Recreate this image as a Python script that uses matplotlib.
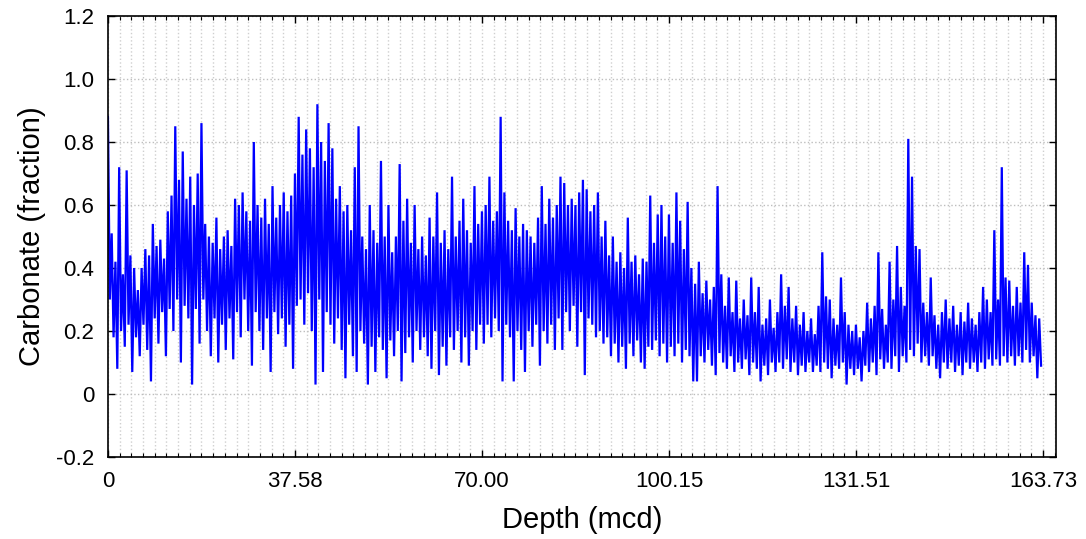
import numpy as np
import matplotlib
matplotlib.use('Agg')
import matplotlib.pyplot as plt
from matplotlib.ticker import MultipleLocator, FixedLocator, FixedFormatter

plt.rcParams['font.family'] = ['Liberation Sans', 'DejaVu Sans']

# carbonate fraction, read off the picture as alternating peak / trough values
# one list per interval between depth labels
seg1 = [0.88, 0.30, 0.51, 0.18, 0.42, 0.08, 0.72, 0.20, 0.38, 0.15,
        0.71, 0.22, 0.44, 0.07, 0.40, 0.18, 0.33, 0.12, 0.40, 0.22,
        0.46, 0.14, 0.44, 0.04, 0.54, 0.24, 0.47, 0.16, 0.49, 0.26,
        0.43, 0.12, 0.58, 0.27, 0.63, 0.20, 0.85, 0.30, 0.68, 0.10,
        0.77, 0.28, 0.62, 0.24, 0.69, 0.03, 0.60, 0.27, 0.70, 0.16,
        0.86, 0.30, 0.54, 0.20, 0.50, 0.12, 0.48, 0.24, 0.56, 0.10,
        0.46, 0.22, 0.50, 0.14, 0.52, 0.24, 0.47, 0.11, 0.62, 0.26,
        0.60, 0.18, 0.64, 0.30, 0.58, 0.20, 0.55, 0.09, 0.80, 0.26,
        0.60, 0.20, 0.56, 0.14, 0.62, 0.24, 0.54, 0.07, 0.66, 0.26,
        0.56, 0.19, 0.60, 0.24, 0.64, 0.15, 0.58, 0.22, 0.63, 0.08]
seg2 = [0.70, 0.28, 0.88, 0.30, 0.76, 0.22, 0.84, 0.32, 0.78, 0.20,
        0.72, 0.03, 0.92, 0.30, 0.80, 0.07, 0.74, 0.26, 0.86, 0.22,
        0.78, 0.16, 0.62, 0.24, 0.66, 0.14, 0.58, 0.05, 0.60, 0.22,
        0.52, 0.12, 0.72, 0.07, 0.85, 0.20, 0.50, 0.16, 0.46, 0.03,
        0.60, 0.15, 0.52, 0.07, 0.48, 0.18, 0.74, 0.14, 0.50, 0.05,
        0.60, 0.17, 0.45, 0.12, 0.50, 0.20, 0.73, 0.04, 0.55, 0.13,
        0.62, 0.18, 0.48, 0.10, 0.60, 0.20, 0.46, 0.14, 0.50, 0.18,
        0.44, 0.12, 0.56, 0.08, 0.50, 0.20, 0.64, 0.06, 0.48, 0.15,
        0.52, 0.09, 0.46, 0.18, 0.69, 0.14, 0.50, 0.20, 0.55, 0.10,
        0.62, 0.18, 0.52, 0.09, 0.48, 0.20, 0.66, 0.14, 0.54, 0.22]
seg3 = [0.58, 0.16, 0.60, 0.22, 0.69, 0.18, 0.55, 0.24, 0.58, 0.20,
        0.88, 0.04, 0.64, 0.22, 0.55, 0.18, 0.52, 0.04, 0.59, 0.20,
        0.50, 0.14, 0.54, 0.07, 0.52, 0.20, 0.50, 0.15, 0.48, 0.22,
        0.56, 0.09, 0.66, 0.20, 0.54, 0.16, 0.62, 0.22, 0.56, 0.14,
        0.60, 0.24, 0.69, 0.14, 0.67, 0.26, 0.60, 0.20, 0.62, 0.28,
        0.60, 0.15, 0.64, 0.26, 0.68, 0.06, 0.65, 0.24, 0.58, 0.22,
        0.60, 0.18, 0.64, 0.20, 0.50, 0.16, 0.55, 0.18, 0.44, 0.12,
        0.50, 0.16, 0.42, 0.10, 0.45, 0.15, 0.40, 0.08, 0.56, 0.16,
        0.42, 0.12, 0.44, 0.17, 0.38, 0.10, 0.43, 0.08, 0.42, 0.15,
        0.63, 0.14, 0.48, 0.17, 0.57, 0.12, 0.60, 0.16, 0.50, 0.10]
seg4 = [0.57, 0.15, 0.48, 0.12, 0.64, 0.16, 0.55, 0.10, 0.46, 0.14,
        0.61, 0.12, 0.40, 0.04, 0.35, 0.04, 0.42, 0.12, 0.32, 0.10,
        0.36, 0.14, 0.30, 0.09, 0.34, 0.06, 0.66, 0.13, 0.38, 0.10,
        0.28, 0.08, 0.37, 0.12, 0.26, 0.07, 0.36, 0.10, 0.24, 0.08,
        0.30, 0.11, 0.25, 0.06, 0.37, 0.10, 0.26, 0.08, 0.34, 0.04,
        0.22, 0.09, 0.24, 0.06, 0.30, 0.10, 0.21, 0.07, 0.26, 0.10,
        0.38, 0.08, 0.28, 0.11, 0.34, 0.07, 0.24, 0.10, 0.28, 0.06,
        0.22, 0.09, 0.26, 0.07, 0.20, 0.10, 0.24, 0.07, 0.19, 0.09,
        0.28, 0.07, 0.45, 0.10, 0.31, 0.08, 0.30, 0.05, 0.24, 0.09,
        0.22, 0.08, 0.37, 0.10, 0.26, 0.03, 0.22, 0.08, 0.20, 0.06]
seg5 = [0.22, 0.08, 0.18, 0.04, 0.20, 0.09, 0.29, 0.07, 0.24, 0.10,
        0.28, 0.06, 0.45, 0.11, 0.27, 0.08, 0.22, 0.10, 0.42, 0.08,
        0.30, 0.12, 0.47, 0.07, 0.34, 0.12, 0.28, 0.10, 0.81, 0.14,
        0.69, 0.12, 0.47, 0.16, 0.46, 0.10, 0.29, 0.12, 0.26, 0.09,
        0.37, 0.12, 0.25, 0.08, 0.22, 0.05, 0.26, 0.10, 0.30, 0.08,
        0.24, 0.10, 0.28, 0.07, 0.22, 0.09, 0.26, 0.06, 0.23, 0.10,
        0.29, 0.08, 0.24, 0.10, 0.22, 0.07, 0.26, 0.10, 0.34, 0.08,
        0.30, 0.11, 0.26, 0.09, 0.52, 0.11, 0.30, 0.09, 0.72, 0.12,
        0.37, 0.10, 0.36, 0.12, 0.28, 0.09, 0.34, 0.12, 0.29, 0.10,
        0.45, 0.14, 0.41, 0.10, 0.29, 0.12, 0.25, 0.05, 0.24, 0.09]

depth_labels = ['0', '37.58', '70.00', '100.15', '131.51', '163.73']
yticks = [-0.2, 0, 0.2, 0.4, 0.6, 0.8, 1.0, 1.2]
ytick_labels = ['-0.2', '0', '0.2', '0.4', '0.6', '0.8', '1.0', '1.2']

carbonate = np.array(seg1 + seg2 + seg3 + seg4 + seg5)
idx = np.arange(len(carbonate))
step = len(seg1)

fig = plt.figure(figsize=(10.86, 5.39), dpi=100)
ax = fig.add_axes([0.0994, 0.1521, 0.8730, 0.8182])

ax.plot(idx, carbonate, color='#0000ff', linewidth=1.6, solid_joinstyle='miter')

ax.set_xlim(0, 507)
ax.set_ylim(-0.2, 1.2)

ax.xaxis.set_major_locator(FixedLocator([i * step for i in range(len(depth_labels))]))
ax.xaxis.set_major_formatter(FixedFormatter(depth_labels))
ax.xaxis.set_minor_locator(MultipleLocator(step / 16))
ax.yaxis.set_major_locator(FixedLocator(yticks))
ax.yaxis.set_major_formatter(FixedFormatter(ytick_labels))

ax.tick_params(which='both', direction='in', top=True, right=True)
ax.tick_params(which='major', length=5, width=1, labelsize=16, pad=10)
ax.tick_params(which='minor', length=3, width=0.8)

ax.grid(True, which='both', axis='x', linestyle=':', color='#cfcfcf', linewidth=1.0)
ax.grid(True, which='major', axis='y', linestyle=':', color='#bdbdbd', linewidth=1.0)
ax.set_axisbelow(True)

for s in ax.spines.values():
    s.set_linewidth(1.2)

ax.set_xlabel('Depth (mcd)', fontsize=21, labelpad=10)
ax.set_ylabel('Carbonate (fraction)', fontsize=21, labelpad=7)

fig.savefig('out.png', dpi=100)
